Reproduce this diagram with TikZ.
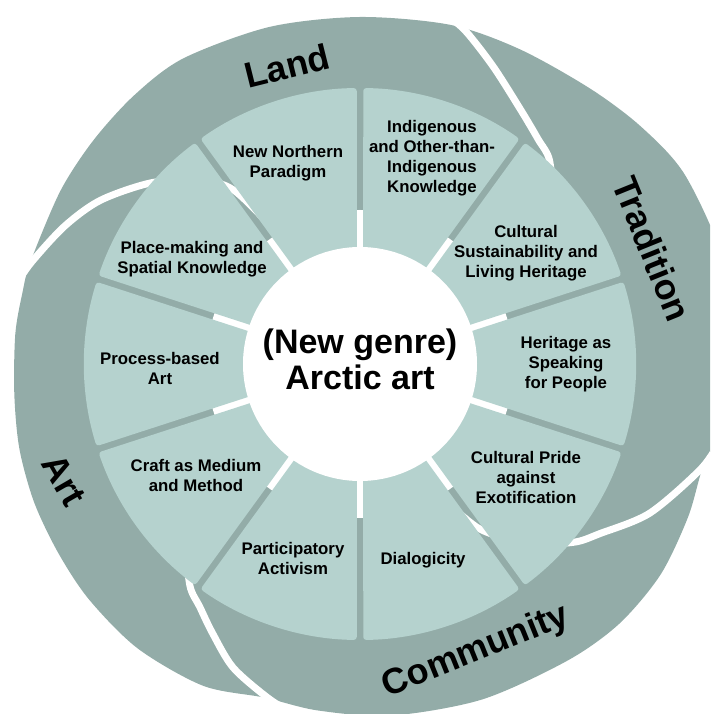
\documentclass[tikz,border=0pt]{standalone}
\usepackage{fontspec}
\setmainfont{Liberation Sans}
\definecolor{bandgray}{RGB}{147,172,168}
\definecolor{seggreen}{RGB}{181,210,206}

\begin{document}
\begin{tikzpicture}[x=1pt, y=1pt,
  seg/.style={fill=seggreen, rounded corners=3pt},
  gap/.style={draw=white, line width=7pt, line cap=round},
  lbl/.style={font=\bfseries\fontsize{16.8}{20}\selectfont, align=center},
  bandlbl/.style={font=\bfseries\fontsize{36}{40}\selectfont}]
\clip (-360,-350) rectangle (350,364);
% Outer bands: Land, Tradition, Community, Art
\fill[bandgray] plot[smooth cycle] coordinates {
  (162.8:345) (150:346) (140:348) (130:351) (120:353) (105:349) (90:347) (75:351)
  (63:353) (50:359) (40:368) (30:376) (15:378) (0:374) (-10:366)
  (-17:358) (-25:362) (-35:367) (-45:367) (-55:362) (-70:357) (-85:353) (-97:349)
  (-106:347) (-116:358) (-128:361) (-139:359) (-148:356) (-157:354) (-166:351)
  (-175:347) (-185:346) (-192:345)};
% White gaps between the bands
\draw[gap] plot[smooth] coordinates {(77:362) (72.6:350) (65.9:326) (57.8:301)
  (51.7:287) (47:278) (40:250) (35:215) (32:165)};
\draw[gap] plot[smooth] coordinates {(-12:368) (-17:357) (-27.2:326) (-35.2:294)
  (-39.9:278) (-47:245) (-54:204) (-58:160)};
\draw[gap] plot[smooth] coordinates {(-101:356) (-105.6:346) (-112.7:329) (-118.7:307)
  (-123.4:291) (-127.6:279) (-135:245) (-140:210) (-143:165)};
\draw[gap] plot[smooth] coordinates {(167:353) (162.8:344) (155:326) (147.8:307)
  (139.2:277) (131:245) (126:215) (123:165)};
% Inner white ring behind the segments
\fill[white] (0,0) circle (154);
% Segments
\foreach \a in {90,54,18,-18,-54,-90,-126,-162,162,126}
  \fill[seg] (\a-1.69:110) -- (\a-0.675:276)
    arc[start angle=\a-0.675, end angle=\a-35.325, radius=276]
    -- (\a-34.31:110) -- cycle;
% Centre
\fill[white] (0,0) circle (117);
\node[font=\bfseries\fontsize{34}{36}\selectfont, align=center] (title) at (0,4.5)
  {(New genre)\\Arctic art};
% Segment labels
\node[lbl] (northern) at (-72,201) {New Northern\\Paradigm};
\node[lbl] (indigenous) at (72,206) {Indigenous\\and Other-than-\\Indigenous\\Knowledge};
\node[lbl] (sustain) at (166,111) {Cultural\\Sustainability and\\Living Heritage};
\node[lbl] (heritage) at (206,0) {Heritage as\\Speaking\\for People};
\node[lbl] (pride) at (166,-113.5) {Cultural Pride\\against\\Exotification};
\node[lbl] (dialog) at (63,-196) {Dialogicity};
\node[lbl] (activism) at (-67,-194.5) {Participatory\\Activism};
\node[lbl] (craft) at (-164,-111) {Craft as Medium\\and Method};
\node[lbl] (process) at (-200,-4) {Process-based\\Art};
\node[lbl] (place) at (-168,105) {Place-making and\\Spatial Knowledge};
% Band labels
\node[bandlbl, rotate=14] (land) at (-73,298) {Land};
\node[bandlbl, rotate=-68] (tradition) at (292,115) {Tradition};
\node[bandlbl, rotate=22] (community) at (116,-288) {Community};
\node[bandlbl, rotate=-60] (art) at (-296,-116) {Art};
\end{tikzpicture}
\end{document}
